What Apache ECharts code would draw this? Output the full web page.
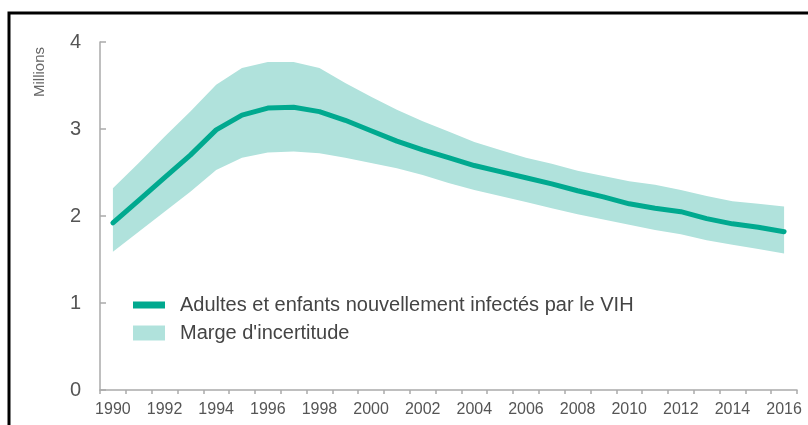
<!DOCTYPE html>
<html>
<head>
<meta charset="utf-8">
<script src="https://cdn.jsdelivr.net/npm/echarts@6/dist/echarts.min.js"></script>
<style>
html,body{margin:0;padding:0;background:#fff;}
#c{width:808px;height:425px;}
</style>
</head>
<body>
<div id="c"></div>
<script>
const years = ['1990','1991','1992','1993','1994','1995','1996','1997','1998','1999','2000','2001','2002','2003','2004','2005','2006','2007','2008','2009','2010','2011','2012','2013','2014','2015','2016'];
const newInfections = [1.92,2.18,2.44,2.70,2.99,3.16,3.24,3.25,3.20,3.10,2.98,2.86,2.76,2.67,2.58,2.51,2.44,2.37,2.29,2.22,2.14,2.09,2.05,1.97,1.91,1.87,1.82];
const upperBound = [2.32,2.61,2.91,3.20,3.51,3.70,3.77,3.77,3.70,3.53,3.37,3.22,3.09,2.97,2.85,2.76,2.67,2.60,2.52,2.46,2.40,2.36,2.30,2.23,2.17,2.14,2.11];
const lowerBound = [1.59,1.82,2.05,2.28,2.53,2.67,2.73,2.74,2.72,2.67,2.61,2.55,2.47,2.38,2.30,2.23,2.16,2.09,2.02,1.96,1.90,1.84,1.79,1.72,1.67,1.62,1.57];
const yTicks = [0,1,2,3,4];

const lineName = 'Adultes et enfants nouvellement infectés par le VIH';
const bandName = "Marge d'incertitude";
const bandWidth = upperBound.map((u,i)=>+(u - lowerBound[i]).toFixed(3));

const chart = echarts.init(document.getElementById('c'));
chart.setOption({
  animation:false,
  backgroundColor:'#fff',
  textStyle:{fontFamily:'Liberation Sans, Arial, sans-serif'},
  grid:{left:100,right:11,top:42,bottom:35,containLabel:false},
  graphic:[
    {type:'rect',shape:{x:9,y:13,width:900,height:500},style:{fill:null,stroke:'#000',lineWidth:3},silent:true,z:100},
    {type:'text',x:40,y:72,rotation:Math.PI/2,style:{text:'Millions',fill:'#666',font:'15px Liberation Sans, Arial, sans-serif',align:'center',verticalAlign:'middle'}}
  ],
  legend:[
    {data:[{name:lineName,icon:'rect'}],left:128,top:290,orient:'vertical',itemWidth:32,itemHeight:7,
     textStyle:{fontSize:20,color:'#444',padding:[0,0,0,10]},selectedMode:false},
    {data:[{name:bandName,icon:'rect'}],left:128,top:318,orient:'vertical',itemWidth:32,itemHeight:15,
     textStyle:{fontSize:20,color:'#444',padding:[0,0,0,10]},selectedMode:false}
  ],
  xAxis:{
    type:'category',data:years,boundaryGap:true,
    axisLine:{lineStyle:{color:'#aaa',width:1.5}},
    axisTick:{show:true,interval:0,length:4,lineStyle:{color:'#aaa',width:1.5}},
    axisLabel:{interval:1,color:'#555',fontSize:16,margin:12}
  },
  yAxis:{
    type:'value',min:yTicks[0],max:yTicks[yTicks.length-1],interval:1,
    axisLine:{show:true,lineStyle:{color:'#aaa',width:1.5}},
    axisTick:{show:true,inside:true,length:6,lineStyle:{color:'#aaa',width:1.5}},
    splitLine:{show:false},
    axisLabel:{color:'#555',fontSize:20,margin:19}
  },
  series:[
    {name:'base',type:'line',data:lowerBound,stack:'band',symbol:'none',lineStyle:{opacity:0},silent:true},
    {name:bandName,type:'line',data:bandWidth,stack:'band',symbol:'none',lineStyle:{opacity:0},
     itemStyle:{color:'#b0e2dc'},areaStyle:{color:'#b0e2dc',opacity:1},silent:true},
    {name:lineName,type:'line',data:newInfections,symbol:'none',
     itemStyle:{color:'#00a98f'},lineStyle:{color:'#00a98f',width:5,cap:'round',join:'round'}}
  ]
});
</script>
</body>
</html>
